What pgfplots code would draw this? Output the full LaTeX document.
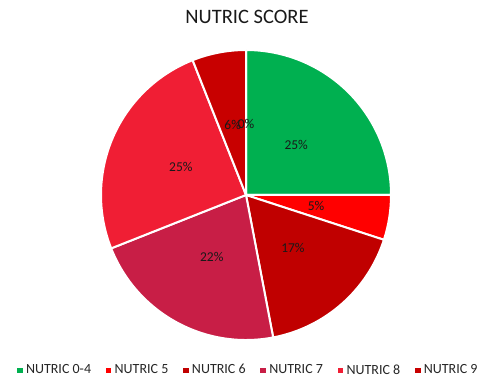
\documentclass[border=0pt]{standalone}
\usepackage{pgfplots}
\usepackage{pgfplotstable}
\pgfplotsset{compat=1.18}
\usepackage{fontspec}
\setmainfont{Carlito}
\definecolor{cA}{RGB}{0,176,80}
\definecolor{cB}{RGB}{255,0,0}
\definecolor{cC}{RGB}{192,0,0}
\definecolor{cD}{RGB}{200,30,70}
\definecolor{cE}{RGB}{240,30,52}
\definecolor{cF}{RGB}{200,0,0}
\pgfplotstableread{
pct col
25 cA
5 cB
17 cC
22 cD
25 cE
6 cF
0 cF
}\piedata
\begin{document}
\begin{tikzpicture}
\begin{axis}[scale only axis, width=497pt, height=380pt,
  xmin=0, xmax=497, ymin=0, ymax=380, hide axis, clip=false,
  title={NUTRIC SCORE},
  title style={at={(247/497,357/380)}, anchor=center, font=\fontsize{20.5}{24}\selectfont, text=black!90},
  legend columns=6,
  legend style={at={(0.5,10/380)}, anchor=center, draw=none, fill=none,
    font=\fontsize{14}{16}\selectfont, text=black!85,
    /tikz/every even column/.append style={column sep=13pt},
    /tikz/every odd column/.append style={column sep=2pt}},
  legend cell align=left]
\addlegendimage{only marks, mark=square*, mark size=2.3pt, color=cA}
\addlegendimage{only marks, mark=square*, mark size=2.3pt, color=cB}
\addlegendimage{only marks, mark=square*, mark size=2.3pt, color=cC}
\addlegendimage{only marks, mark=square*, mark size=2.3pt, color=cD}
\addlegendimage{only marks, mark=square*, mark size=2.3pt, color=cE}
\addlegendimage{only marks, mark=square*, mark size=2.3pt, color=cF}
\legend{NUTRIC 0-4, NUTRIC 5, NUTRIC 6, NUTRIC 7, NUTRIC 8, NUTRIC 9}
\pgfplotsextra{
  \path (axis cs:0,0) rectangle (axis cs:497,380);
  \gdef\pcum{0}
  \pgfplotsforeachungrouped \i in {0,...,6}{%
    \pgfplotstablegetelem{\i}{pct}\of\piedata \let\pval\pgfplotsretval
    \pgfplotstablegetelem{\i}{col}\of\piedata \let\pcol\pgfplotsretval
    \pgfmathsetmacro\angA{90-3.6*\pcum}%
    \pgfmathsetmacro\angB{90-3.6*(\pcum+\pval)}%
    \fill[fill=\pcol, draw=white, line width=2pt, line join=round]
      (axis cs:246,185) -- ++(\angA:145pt) arc[start angle=\angA, end angle=\angB, radius=145pt] -- cycle;
    \pgfmathsetmacro\pcum{\pcum+\pval}%
  }
  \gdef\pcum{0}
  \pgfplotsforeachungrouped \i in {0,...,6}{%
    \pgfplotstablegetelem{\i}{pct}\of\piedata \let\pval\pgfplotsretval
    \pgfmathsetmacro\angM{90-3.6*(\pcum+\pval/2)}%
    \path (axis cs:246,185) ++(\angM:71pt) node[font=\fontsize{13.5}{15}\selectfont, text=black!90] {\pval\%};
    \pgfmathsetmacro\pcum{\pcum+\pval}%
  }
}
\end{axis}
\end{tikzpicture}
\end{document}
